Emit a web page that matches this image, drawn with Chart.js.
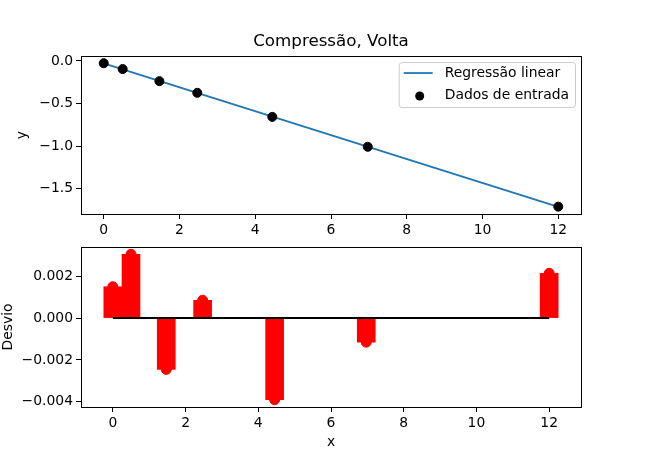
<!DOCTYPE html>
<html>
<head>
<meta charset="utf-8">
<script src="https://cdn.jsdelivr.net/npm/chart.js@4"></script>
<style>
  body { margin: 0; background: #fff; }
  #wrap { position: relative; width: 646px; height: 457px; }
  canvas { position: absolute; left: 0; top: 0; }
</style>
</head>
<body>
<div id="wrap">
  <canvas id="top-chart" width="646" height="457"></canvas>
  <canvas id="bottom-chart" width="646" height="457"></canvas>
</div>
<script>
// input data
const xData = [0, 0.5, 1.47, 2.47, 4.45, 6.97, 12];
const yData = [-0.027, -0.0956, -0.2372, -0.3742, -0.6567, -1.0076, -1.71];
// regression line end points
const fitX = [0, 12];
const fitY = [-0.0285, -1.712];
// residuals
const desvio = [0.0015, 0.00305, -0.00245, 0.00085, -0.0039, -0.00115, 0.00214];
const barWidth = 0.5;

const xTicks = [0, 2, 4, 6, 8, 10, 12];
const yTicksTop = [-1.5, -1.0, -0.5, 0.0];
const yTicksBottom = [-0.004, -0.002, 0.0, 0.002];

Chart.defaults.font.family = 'DejaVu Sans';
Chart.defaults.font.size = 13.9;
Chart.defaults.color = '#000';

// matplotlib style 5% margins
function padRange(lo, hi) {
    const m = (hi - lo) * 0.05;
    return [lo - m, hi + m];
}

function fmt(digits) {
    return v => v.toFixed(digits).replace('-', '\u2212');
}

// full box around the plot area
const framePlugin = {
    id: 'frame',
    afterDraw(chart) {
        const a = chart.chartArea, ctx = chart.ctx;
        ctx.save();
        ctx.strokeStyle = '#000';
        ctx.lineWidth = 1;
        ctx.strokeRect(Math.round(a.left) + 0.5, Math.round(a.top) + 0.5,
            Math.round(a.right - a.left), Math.round(a.bottom - a.top));
        ctx.restore();
    }
};

// legend box in the upper right, inside the axes
const legendPlugin = {
    id: 'mplLegend',
    afterDraw(chart) {
        const ctx = chart.ctx, a = chart.chartArea;
        const sets = chart.data.datasets;
        ctx.save();
        ctx.font = '13.9px "DejaVu Sans"';
        const textW = Math.max(...sets.map(d => ctx.measureText(d.label).width));
        const w = textW + 52, h = 45;
        const right = a.right - 6, top = a.top + 6;
        const left = right - w;
        ctx.beginPath();
        ctx.roundRect(left + 0.5, top + 0.5, w, h, 3);
        ctx.fillStyle = 'rgba(255,255,255,0.8)';
        ctx.fill();
        ctx.strokeStyle = '#cccccc';
        ctx.lineWidth = 1;
        ctx.stroke();
        sets.forEach((d, i) => {
            const cy = top + 11 + i * 22;
            if (d.showLine) {
                ctx.beginPath();
                ctx.moveTo(left + 5, cy);
                ctx.lineTo(left + 34, cy);
                ctx.strokeStyle = d.borderColor;
                ctx.lineWidth = d.borderWidth;
                ctx.stroke();
            } else {
                ctx.beginPath();
                ctx.arc(left + 21, cy + 1, 4.5, 0, Math.PI * 2);
                ctx.fillStyle = d.backgroundColor;
                ctx.fill();
            }
            ctx.fillStyle = '#000';
            ctx.textBaseline = 'middle';
            ctx.fillText(d.label, left + 46, cy);
        });
        ctx.restore();
    }
};

function gridOpts() {
    return { offset: false, drawOnChartArea: false, drawTicks: true, tickLength: 5, tickColor: '#000', lineWidth: 1 };
}

// ---------- top chart: data and linear fit ----------
const topX = padRange(Math.min(...xData, ...fitX), Math.max(...xData, ...fitX));
const topY = padRange(Math.min(...yData, ...fitY), Math.max(...yData, ...fitY));

new Chart(document.getElementById('top-chart'), {
    type: 'scatter',
    data: {
        datasets: [
            {
                type: 'line',
                label: 'Regressão linear',
                data: fitX.map((x, i) => ({ x: x, y: fitY[i] })),
                showLine: true,
                borderColor: '#1f77b4',
                borderWidth: 1.8,
                pointRadius: 0,
                order: 1
            },
            {
                label: 'Dados de entrada',
                data: xData.map((x, i) => ({ x: x, y: yData[i] })),
                showLine: false,
                backgroundColor: '#000',
                borderColor: '#000',
                pointRadius: 4.5,
                order: 0
            }
        ]
    },
    options: {
        responsive: false,
        animation: false,
        layout: { padding: { left: 0, right: 65, top: 0, bottom: 0 } },
        plugins: {
            legend: { display: false },
            tooltip: { enabled: false },
            title: {
                display: true,
                text: 'Compressão, Volta',
                fullSize: false,
                font: { size: 16.7, weight: 'normal' },
                padding: { top: 31.5, bottom: 4.5 }
            }
        },
        scales: {
            x: {
                type: 'linear',
                min: topX[0], max: topX[1],
                grid: gridOpts(),
                border: { display: false },
                afterBuildTicks: s => { s.ticks = xTicks.map(v => ({ value: v })); },
                ticks: { padding: 3, maxRotation: 0, callback: fmt(0) },
                afterFit: s => { s.height = 457 - 214; }
            },
            y: {
                min: topY[0], max: topY[1],
                grid: gridOpts(),
                border: { display: false },
                afterBuildTicks: s => { s.ticks = yTicksTop.map(v => ({ value: v })); },
                ticks: { padding: 3, callback: fmt(1) },
                title: { display: true, text: 'y', padding: { top: 14.5, bottom: 0 } },
                afterFit: s => { s.width = 81; }
            }
        }
    },
    plugins: [framePlugin, legendPlugin]
});

// ---------- bottom chart: residuals ----------
const botX = padRange(Math.min(...xData) - barWidth / 2, Math.max(...xData) + barWidth / 2);
const botY = padRange(Math.min(0, ...desvio), Math.max(0, ...desvio));

new Chart(document.getElementById('bottom-chart'), {
    type: 'bar',
    data: {
        datasets: [
            {
                type: 'line',
                label: 'zero',
                data: [{ x: xData[0], y: 0 }, { x: xData[xData.length - 1], y: 0 }],
                borderColor: '#000',
                borderWidth: 2,
                pointRadius: 0,
                order: 0
            },
            {
                type: 'scatter',
                label: 'pontos',
                data: xData.map((x, i) => ({ x: x, y: desvio[i] })),
                backgroundColor: '#ff0000',
                borderColor: '#ff0000',
                pointRadius: 5,
                order: 2
            },
            {
                type: 'bar',
                label: 'Desvio',
                data: xData.map((x, i) => ({ x: x, y: desvio[i] })),
                backgroundColor: '#ff0000',
                borderWidth: 0,
                barThickness: 18,
                order: 3
            }
        ]
    },
    options: {
        responsive: false,
        animation: false,
        layout: { padding: { left: 0, right: 65, top: 247, bottom: 0 } },
        plugins: {
            legend: { display: false },
            tooltip: { enabled: false }
        },
        scales: {
            x: {
                type: 'linear',
                offset: false,
                min: botX[0], max: botX[1],
                grid: gridOpts(),
                border: { display: false },
                afterBuildTicks: s => { s.ticks = xTicks.map(v => ({ value: v })); },
                ticks: { padding: 3, maxRotation: 0, callback: fmt(0) },
                title: { display: true, text: 'x', padding: { top: 0, bottom: 6 } },
                afterFit: s => { s.height = 457 - 407; }
            },
            y: {
                min: botY[0], max: botY[1],
                grid: gridOpts(),
                border: { display: false },
                afterBuildTicks: s => { s.ticks = yTicksBottom.map(v => ({ value: v })); },
                ticks: { padding: 3, callback: fmt(3) },
                title: { display: true, text: 'Desvio', padding: { top: 0, bottom: 0 } },
                afterFit: s => { s.width = 81; }
            }
        }
    },
    plugins: [framePlugin]
});
</script>
</body>
</html>
